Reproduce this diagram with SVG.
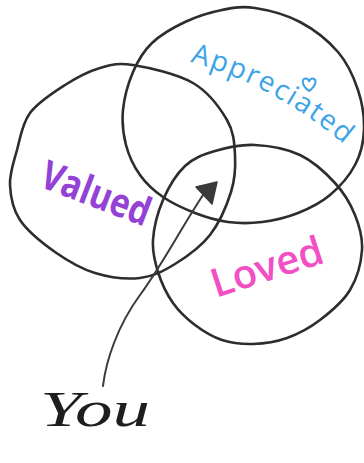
<svg xmlns="http://www.w3.org/2000/svg" width="364" height="463" viewBox="0 0 364 463">
<style>
.ring{fill:none;stroke:#2d2d2d;stroke-width:2.6;stroke-linecap:round;stroke-linejoin:round}
.lbl{font-family:"Open Sans","Noto Sans",sans-serif}
.wire{fill:none;stroke:#3a3a3a;stroke-width:2;stroke-linecap:round}
</style>
<defs>
<path id="appPath" d="M190,62 Q280,86 360,158"/>
</defs>
<rect width="364" height="463" fill="#ffffff"/>
<g id="node-valued">
<path class="ring" d="M133,65 C148.5,67.5 177.3,73.8 193,83 S220,108 227,120 S234.3,143 235,155 S235.2,178.7 231,192 S219.3,223 210,235 S186.7,256.8 175,264 S153.3,276.5 140,278 S109.2,277.3 95,273 S67.5,260.8 55,252 S27.5,231.2 20,220 S10.5,196.7 10,185 S13.7,162 17,150 S22,123.8 30,113 S53.3,92.5 65,85 S88.7,71.3 100,68 S117.5,62.5 133,65 Z"/>
<text class="lbl" x="38" y="186" font-size="40" font-weight="700" fill="#9442d6" textLength="114" lengthAdjust="spacingAndGlyphs" transform="rotate(21 38 186)">Valued</text>
</g>
<g id="node-appreciated">
<path class="ring" d="M255,8 C268,10 286.2,14.7 300,22 S328.3,40.7 338,52 S353.7,77 358,90 S364.5,117.5 364,130 S360.7,154.2 355,165 S339.5,187 330,195 S309.3,208.5 298,213 S273.7,220.5 262,222 S239.2,223.5 228,222 S205.8,217.2 195,213 S172.2,203.3 163,197 S146.2,183.7 140,175 S128.8,155.8 126,145 S121.8,122.2 123,110 S128.2,83.2 133,72 S143.3,51.3 152,43 S173.3,27.5 185,22 S210.3,12.3 222,10 S242,6 255,8 Z"/>
<text class="lbl" font-size="28" fill="#3ca3e6" letter-spacing="1.8"><textPath href="#appPath">Appreciated</textPath></text>
<path d="M309,91 C302,86 301,79 305.5,78.5 C307.5,78.3 309,80 309,82 C309.5,80 311,78 313.5,78.8 C317,80 316,86 309,91 Z" fill="none" stroke="#3ca3e6" stroke-width="2"/>
</g>
<g id="node-loved">
<path class="ring" d="M255,145 C269.2,145.7 286.7,148.7 300,155 S325.8,173 335,183 S350.5,203.8 355,215 S362.8,237.5 362,250 S357,278.3 350,290 S330.5,312 320,320 S298.2,334 287,338 S263.8,343.7 253,344 S231.7,343.2 222,340 S203.2,331.2 195,325 S179.2,311.8 173,303 S161.3,282.5 158,272 S152.2,252 153,240 S157.7,212.3 163,200 S176.3,174.2 185,166 S203.3,154.5 215,151 S240.8,144.3 255,145 Z"/>
<text class="lbl" x="216" y="298" font-size="40" font-weight="600" fill="#f24fc4" textLength="116" lengthAdjust="spacingAndGlyphs" transform="rotate(-18 216 298)">Loved</text>
</g>
<g id="node-you">
<text x="40" y="426" font-family="'Liberation Serif',serif" font-style="italic" font-size="50" fill="#1e1e1e" textLength="110" lengthAdjust="spacingAndGlyphs">You</text>
</g>
<g id="connectors">
<path class="wire" d="M103,386 C106,360 118,325 140,295 S180,230 203,195"/>
<polygon points="196,187 217,182 212,204" fill="#3a3a3a" stroke="#3a3a3a" stroke-width="1.5" stroke-linejoin="round"/>
</g>
</svg>
